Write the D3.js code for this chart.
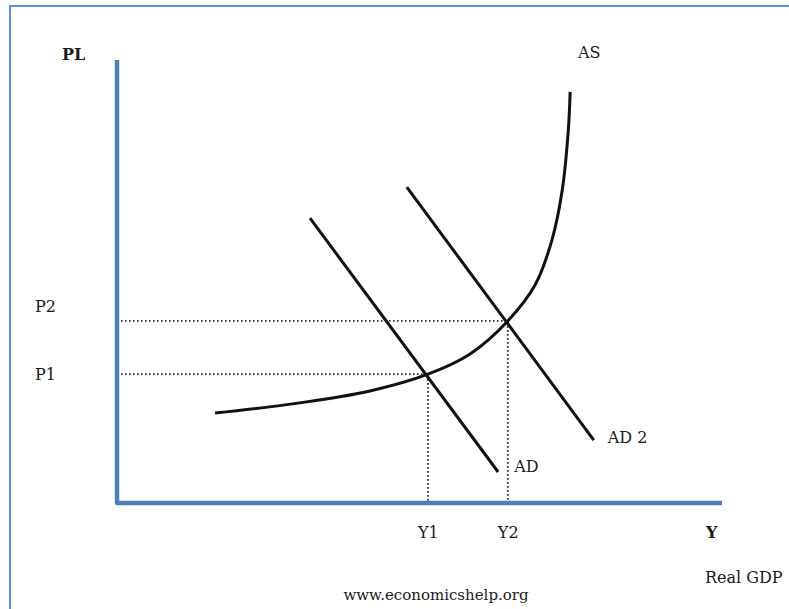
<!DOCTYPE html>
<html><head>
<meta charset="utf-8">
<script src="https://d3js.org/d3.v7.min.js"></script>
<style>
  body { margin: 0; background: #fff; }
  svg text { font-family: "DejaVu Serif", "Liberation Serif", serif; fill: #1a1a1a; }
</style>
</head>
<body>
<div id="container"></div>
<script>

// Curve data, in chart units (x: output, y: price level)
const asX = [1.62, 3.02, 4.18, 5.14, 5.83, 6.46, 6.91, 7.19, 7.36, 7.46, 7.49];
const asY = [2.03, 2.26, 2.53, 2.91, 3.36, 4.11, 4.92, 5.94, 7.07, 8.42, 9.28];
const adX = [3.19, 6.30];
const adY = [6.43, 0.70];
const ad2X = [4.79, 7.88];
const ad2Y = [7.13, 1.42];

// equilibrium points
const eqNames = ["1", "2"];
const eqX = [5.14, 6.46];
const eqY = [2.91, 4.11];

const width = 789, height = 609;

const svg = d3.select("#container").append("svg")
              .attr("width", width)
              .attr("height", height);

// outer frame (blue border of the picture)
svg.append("path")
   .attr("d", "M10," + height + " V6 H" + width)
   .attr("fill", "none")
   .attr("stroke", "#5b8ed6")
   .attr("stroke-width", 2);

const xScale = d3.scaleLinear().domain([0, 10]).range([117, 722]);
const yScale = d3.scaleLinear().domain([0, 10]).range([503, 60]);

const line = d3.line()
               .x(d => xScale(d[0]))
               .y(d => yScale(d[1]));

// dotted guides
eqX.forEach((x, i) => {
  svg.append("path")
     .attr("d", line([[0, eqY[i]], [x, eqY[i]], [x, 0]]))
     .attr("fill", "none")
     .attr("stroke", "#333")
     .attr("stroke-width", 1.8)
     .attr("stroke-dasharray", "1.6,2.4");
});

// axes
svg.append("path")
   .attr("d", line([[0, 10], [0, 0], [10, 0]]))
   .attr("fill", "none")
   .attr("stroke", "#4f7fb8")
   .attr("stroke-width", 4.5)
   .attr("stroke-linejoin", "round");

// AS curve
const asLine = d3.line()
                 .x(d => xScale(d[0]))
                 .y(d => yScale(d[1]))
                 .curve(d3.curveCatmullRom);
svg.append("path")
   .attr("d", asLine(asX.map((x, i) => [x, asY[i]])))
   .attr("fill", "none")
   .attr("stroke", "#111")
   .attr("stroke-width", 3);

// AD curves
[[adX, adY], [ad2X, ad2Y]].forEach(c => {
  svg.append("path")
     .attr("d", line(c[0].map((x, i) => [x, c[1][i]])))
     .attr("fill", "none")
     .attr("stroke", "#111")
     .attr("stroke-width", 3);
});

// labels
function label(txt, x, y, opts) {
  opts = opts || {};
  return svg.append("text")
            .attr("x", x).attr("y", y)
            .attr("font-size", opts.size || 16)
            .attr("font-weight", opts.bold ? "bold" : "normal")
            .attr("text-anchor", opts.anchor || "start")
            .text(txt);
}

label("PL", 62, 60, {bold: true});
label("AS", 578, 58);
label("Y", 706, 538, {bold: true});
label("Real GDP", 705, 583);
label("AD", xScale(adX[1]) + 16, yScale(adY[1]));
label("AD 2", xScale(ad2X[1]) + 14, yScale(ad2Y[1]) + 3);
eqNames.forEach((n, i) => {
  label("P" + n, 35, yScale(eqY[i]) + (i === 0 ? 6 : -9));
  label("Y" + n, xScale(eqX[i]) - 10, 538);
});
label("www.economicshelp.org", 436, 600, {anchor: "middle", size: 15});

</script>
</body>
</html>
